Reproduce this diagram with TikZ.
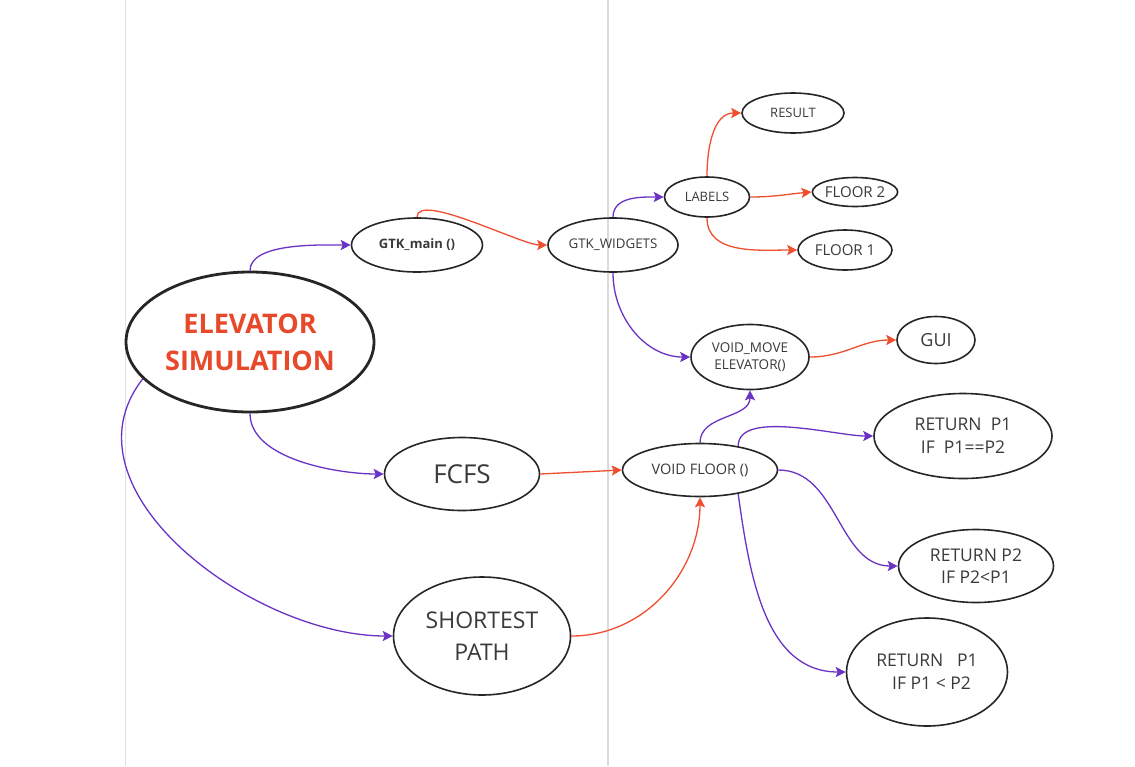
\documentclass[tikz,border=0pt]{standalone}
\usepackage{fontspec}
\setmainfont{Open Sans}
\usepackage{tikz}
\usetikzlibrary{positioning,shapes.geometric,arrows.meta}

\definecolor{titlered}{HTML}{E8492B}
\definecolor{linkred}{HTML}{EF4F2F}
\definecolor{linkpurple}{HTML}{6A33C4}
\definecolor{textgray}{HTML}{3A3A3A}

\newcommand{\fsz}[2]{\fontsize{#1}{#2}\selectfont}

\begin{document}
\begin{tikzpicture}[x=1pt, y=1pt,
      every node/.style={align=center, inner sep=0pt, text=textgray},
      bubble/.style={draw=black!85, ellipse, line width=1.6pt},
      main/.style={bubble, line width=2.8pt, text=titlered,
                   font=\fsz{27}{37}\bfseries},
      plink/.style={-{Stealth[length=10pt, width=10pt, inset=2pt]},
                    line width=1.3pt, draw=linkpurple},
      rlink/.style={plink, draw=linkred},
  ]
    \fill[white] (0,0) rectangle (1135,-766);
    \useasboundingbox (0,0) rectangle (1135,-766);

    %% --- page guides ---
    \draw[black!12, line width=1pt] (125,0) -- (125,-766);
    \draw[black!14, line width=1.3pt] (608,0) -- (608,-766);

    %% --- root and first level ---
    \node[main, minimum width=248, minimum height=140] (elev) at (250,-342) {ELEVATOR\\SIMULATION};
    \node[bubble, minimum width=131, minimum height=54, font=\fsz{13}{16}\bfseries] (gtk) at (417,-245) {GTK\_main ()};
    \node[bubble, minimum width=155, minimum height=73, font=\fsz{26}{30}] (fcfs) at (462,-474) {FCFS};
    \node[bubble, minimum width=177, minimum height=118, font=\fsz{23}{32}] (short) at (482,-636) {SHORTEST\\PATH};

    %% --- gtk branch ---
    \node[bubble, minimum width=130, minimum height=54, font=\fsz{13.3}{16}] (widgets) at (613,-245) {GTK\_WIDGETS};
    \node[bubble, minimum width=85, minimum height=40, font=\fsz{13}{15}] (labels) at (707,-197) {LABELS};
    \node[bubble, minimum width=102, minimum height=40, font=\fsz{13}{15}] (result) at (793,-113) {RESULT};
    \node[bubble, minimum width=85, minimum height=29, font=\fsz{15}{17}] (floortwo) at (855,-192) {FLOOR 2};
    \node[bubble, minimum width=94, minimum height=40, font=\fsz{15}{17}] (floorone) at (845,-250) {FLOOR 1};
    \node[bubble, minimum width=118, minimum height=65, font=\fsz{13.5}{17}] (move) at (750,-357) {VOID\_MOVE\\ELEVATOR()};
    \node[bubble, minimum width=78, minimum height=47, font=\fsz{18}{20}] (gui) at (936,-340) {GUI};

    %% --- floor branch ---
    \node[bubble, minimum width=155, minimum height=53, font=\fsz{14.5}{16}] (floor) at (700,-470) {VOID FLOOR ()};
    \node[bubble, minimum width=178, minimum height=85, font=\fsz{17.5}{23}] (retone) at (963,-436) {RETURN\ \ P1\\IF\ \ P1==P2};
    \node[bubble, minimum width=155, minimum height=73, font=\fsz{17.5}{22}] (rettwo) at (976,-566) {RETURN P2\\IF P2<P1};
    \node[bubble, minimum width=161, minimum height=108, font=\fsz{17.5}{23}] (retthree) at (927,-672) {RETURN\ \ \ P1\\\ \ IF P1 < P2};

    %% --- connectors ---
    \draw[plink] (elev.north) to[out=90, in=180, looseness=0.7] (gtk.west);
    \draw[plink] (elev.south) to[out=-90, in=180, looseness=0.8] (fcfs.west);
    \draw[plink] (elev.199) to[out=232, in=180] (short.west);

    \draw[rlink] (gtk.north) to[out=90, in=180, looseness=0.5] (widgets.west);
    \draw[plink] (widgets.north) to[out=90, in=180] (labels.west);
    \draw[plink] (widgets.south) to[out=-90, in=180] (move.west);
    \draw[rlink] (labels.north) to[out=90, in=180] (result.west);
    \draw[rlink] (labels.east) to[out=0, in=185] (floortwo.west);
    \draw[rlink] (labels.south) to[out=-90, in=180] (floorone.west);
    \draw[rlink] (move.east) to[out=0, in=180] (gui.west);

    \draw[rlink] (fcfs.east) -- (floor.west);
    \draw[rlink] (short.east) to[out=0, in=-90] (floor.south);
    \draw[plink] (floor.north) to[out=90, in=-90] (move.south);
    \draw[plink] (floor.32) to[out=90, in=180, looseness=0.7] (retone.west);
    \draw[plink] (floor.east) to[out=0, in=180] (rettwo.west);
    \draw[plink] (floor.-32) to[out=-82, in=180] (retthree.west);
\end{tikzpicture}
\end{document}
